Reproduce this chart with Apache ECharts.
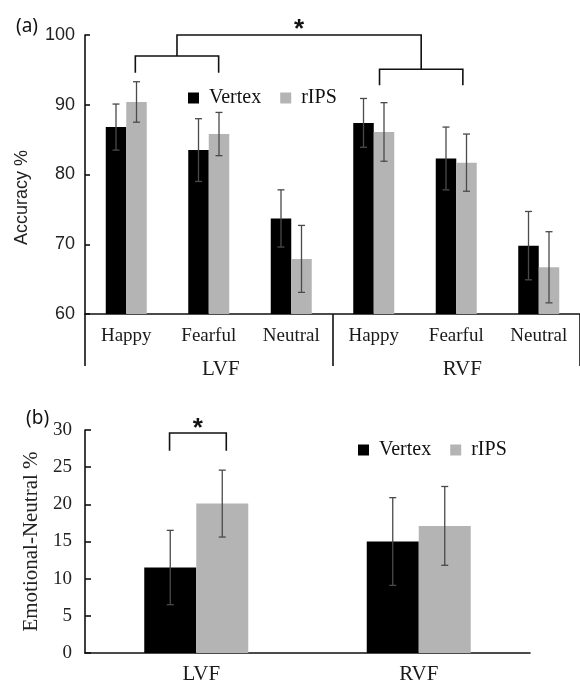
<!DOCTYPE html>
<html><head><meta charset="utf-8">
<script src="https://cdn.jsdelivr.net/npm/echarts@6/dist/echarts.min.js"></script>
<style>html,body{margin:0;padding:0;background:#fff}#c{width:580px;height:688px}</style>
</head><body><div id="c"></div>
<script>
// ---- data ----
const conditions = ['Happy', 'Fearful', 'Neutral', 'Happy', 'Fearful', 'Neutral'];
const fields = ['LVF', 'RVF'];
const vertexAcc    = [86.8, 83.5, 73.7, 87.4, 82.3, 69.8];
const vertexAccErr = [3.3, 4.5, 4.1, 3.5, 4.5, 4.9];
const ripsAcc      = [90.4, 85.8, 67.9, 86.1, 81.7, 66.7];
const ripsAccErr   = [2.9, 3.1, 4.8, 4.2, 4.1, 5.1];
const vertexDiff    = [11.5, 15.0];
const vertexDiffErr = [5.0, 5.9];
const ripsDiff      = [20.1, 17.1];
const ripsDiffErr   = [4.5, 5.3];
const accTicks  = [60, 70, 80, 90, 100];
const diffTicks = [0, 5, 10, 15, 20, 25, 30];
// significance brackets in data units: [fromCat, toCat, barValue, legValue]
const accBrackets  = [[0.11, 1.12, 97.0, 94.6], [3.07, 4.08, 95.1, 92.8]];
const accOuter     = {value: 100, star: 100.8};
const diffBrackets = [[-0.12, 0.135, 29.6, 27.2]];
const diffStar     = 30.2;

const BLACK = '#000000', GRAY = '#b4b4b4', INK = '#111111';
const serif = 'Liberation Serif', sans = 'Liberation Sans';

function errorBars(shift, barW) {
  return function (params, api) {
    const i = api.value(0), v = api.value(1), e = api.value(2);
    const top = api.coord([i, v + e]), bot = api.coord([i, v - e]);
    const x = top[0] + shift * barW, cap = 3.5;
    const st = {stroke: '#4a4a4a', lineWidth: 1.3};
    return {type: 'group', children: [
      {type: 'line', shape: {x1: x, y1: top[1], x2: x, y2: bot[1]}, style: st},
      {type: 'line', shape: {x1: x - cap, y1: top[1], x2: x + cap, y2: top[1]}, style: st},
      {type: 'line', shape: {x1: x - cap, y1: bot[1], x2: x + cap, y2: bot[1]}, style: st}
    ]};
  };
}
function catX(api, c) {
  const bw = api.size([1, 0])[0];
  const i = Math.round(c);
  return api.coord([i, 0])[0] + (c - i) * bw;
}
function bracketShapes(api, b, st) {
  const x0 = catX(api, b[0]), x1 = catX(api, b[1]);
  const yb = api.coord([0, b[2]])[1], yl = api.coord([0, b[3]])[1];
  return {
    mid: (x0 + x1) / 2, y: yb,
    el: {type: 'polyline', shape: {points: [[x0, yl], [x0, yb], [x1, yb], [x1, yl]]}, style: st}
  };
}
function starText(x, y) {
  return {type: 'text', style: {text: '*', x: x, y: y, font: 'bold 26px ' + sans, fill: INK, align: 'center', verticalAlign: 'middle'}};
}
function accBracketRender(params, api) {
  const st = {stroke: INK, lineWidth: 1.6, fill: null};
  const parts = accBrackets.map(b => bracketShapes(api, b, st));
  const yTop = api.coord([0, accOuter.value])[1];
  const children = parts.map(p => p.el);
  children.push({type: 'polyline', shape: {points: [[parts[0].mid, parts[0].y], [parts[0].mid, yTop], [parts[1].mid, yTop], [parts[1].mid, parts[1].y]]}, style: st});
  children.push(starText((parts[0].mid + parts[1].mid) / 2, api.coord([0, accOuter.star])[1]));
  return {type: 'group', children: children};
}
function diffBracketRender(params, api) {
  const st = {stroke: INK, lineWidth: 1.6, fill: null};
  const p = bracketShapes(api, diffBrackets[0], st);
  return {type: 'group', children: [p.el, starText(p.mid, api.coord([0, diffStar])[1])]};
}

const chart = echarts.init(document.getElementById('c'), null, {renderer: 'canvas'});
const axisLineStyle = {color: INK, width: 1.6};
chart.setOption({
  animation: false,
  backgroundColor: '#fff',
  title: [
    {text: '(a)', left: 11, top: 12, textStyle: {fontFamily: 'Noto Sans', fontSize: 19, fontWeight: 'normal', color: INK}},
    {text: '(b)', left: 21, top: 404, textStyle: {fontFamily: 'Noto Sans', fontSize: 19, fontWeight: 'normal', color: INK}}
  ],
  legend: [
    {data: ['Vertex', 'rIPS'], left: 183, top: 83, itemWidth: 11, itemHeight: 11, itemGap: 19,
     icon: 'rect', textStyle: {fontFamily: serif, fontSize: 20, color: INK, padding: [0, 0, 0, 5]}},
    {data: ['Vertex', 'rIPS'], left: 353, top: 435, itemWidth: 11, itemHeight: 11, itemGap: 19,
     icon: 'rect', textStyle: {fontFamily: serif, fontSize: 20, color: INK, padding: [0, 0, 0, 5]}}
  ],
  grid: [
    {left: 85, top: 35, width: 507, height: 279},
    {left: 85, top: 430, width: 445, height: 223}
  ],
  xAxis: [
    {type: 'category', gridIndex: 0, data: conditions,
     axisLine: {lineStyle: axisLineStyle}, axisTick: {length: 5, lineStyle: axisLineStyle},
     axisLabel: {interval: 0, margin: 13, fontFamily: serif, fontSize: 19, color: '#1a1a1a'}},
    {type: 'category', gridIndex: 0, position: 'bottom',
     data: [{value: fields[0], textStyle: {padding: [0, 0, 0, 24]}}, {value: fields[1], textStyle: {padding: [0, 0, 0, 12]}}],
     axisLine: {show: false}, axisTick: {show: true, length: 52, lineStyle: axisLineStyle},
     axisLabel: {interval: 0, margin: 45, fontFamily: serif, fontSize: 21, color: '#1a1a1a'}},
    {type: 'category', gridIndex: 1,
     data: [{value: fields[0], textStyle: {padding: [0, 0, 0, 10]}}, fields[1]],
     axisLine: {lineStyle: axisLineStyle}, axisTick: {length: 7, lineStyle: axisLineStyle},
     axisLabel: {interval: 0, margin: 11, fontFamily: serif, fontSize: 21, color: '#1a1a1a'}}
  ],
  yAxis: [
    {type: 'value', gridIndex: 0, min: accTicks[0], max: accTicks[accTicks.length - 1], interval: accTicks[1] - accTicks[0],
     name: 'Accuracy %', nameLocation: 'middle', nameGap: 54,
     nameTextStyle: {fontFamily: sans, fontSize: 18, color: '#222', padding: [0, 46, 0, 0]},
     axisLine: {show: true, lineStyle: axisLineStyle}, axisTick: {show: true, inside: true, length: 5, lineStyle: axisLineStyle},
     splitLine: {show: false},
     axisLabel: {margin: 10, fontFamily: sans, fontSize: 18, color: '#222'}},
    {type: 'value', gridIndex: 1, min: diffTicks[0], max: diffTicks[diffTicks.length - 1], interval: diffTicks[1] - diffTicks[0],
     name: 'Emotional-Neutral %', nameLocation: 'middle', nameGap: 42,
     nameTextStyle: {fontFamily: serif, fontSize: 21, color: '#222'},
     axisLine: {show: true, lineStyle: axisLineStyle}, axisTick: {show: true, inside: true, length: 6, lineStyle: axisLineStyle},
     splitLine: {show: false},
     axisLabel: {margin: 13, fontFamily: serif, fontSize: 19, color: '#222'}}
  ],
  series: [
    {name: 'Vertex', type: 'bar', xAxisIndex: 0, yAxisIndex: 0, data: vertexAcc, barWidth: 20.5, barGap: '0%', itemStyle: {color: BLACK}},
    {name: 'rIPS', type: 'bar', xAxisIndex: 0, yAxisIndex: 0, data: ripsAcc, barWidth: 20.5, barGap: '0%', itemStyle: {color: GRAY}},
    {name: 'Vertex', type: 'custom', xAxisIndex: 0, yAxisIndex: 0, renderItem: errorBars(-0.5, 20.5),
     data: vertexAcc.map((v, i) => [i, v, vertexAccErr[i]]), encode: {x: 0, y: 1}, z: 5},
    {name: 'rIPS', type: 'custom', xAxisIndex: 0, yAxisIndex: 0, renderItem: errorBars(0.5, 20.5),
     data: ripsAcc.map((v, i) => [i, v, ripsAccErr[i]]), encode: {x: 0, y: 1}, z: 5},
    {type: 'custom', xAxisIndex: 0, yAxisIndex: 0, renderItem: accBracketRender, data: [[0, accOuter.value]], encode: {x: 0, y: 1}, z: 6, silent: true},

    {name: 'Vertex', type: 'bar', xAxisIndex: 2, yAxisIndex: 1, data: vertexDiff, barWidth: 52, barGap: '0%', itemStyle: {color: BLACK}},
    {name: 'rIPS', type: 'bar', xAxisIndex: 2, yAxisIndex: 1, data: ripsDiff, barWidth: 52, barGap: '0%', itemStyle: {color: GRAY}},
    {name: 'Vertex', type: 'custom', xAxisIndex: 2, yAxisIndex: 1, renderItem: errorBars(-0.5, 52),
     data: vertexDiff.map((v, i) => [i, v, vertexDiffErr[i]]), encode: {x: 0, y: 1}, z: 5},
    {name: 'rIPS', type: 'custom', xAxisIndex: 2, yAxisIndex: 1, renderItem: errorBars(0.5, 52),
     data: ripsDiff.map((v, i) => [i, v, ripsDiffErr[i]]), encode: {x: 0, y: 1}, z: 5},
    {type: 'custom', xAxisIndex: 2, yAxisIndex: 1, renderItem: diffBracketRender, data: [[0, diffBrackets[0][2]]], encode: {x: 0, y: 1}, z: 6, silent: true}
  ]
});
</script></body></html>
